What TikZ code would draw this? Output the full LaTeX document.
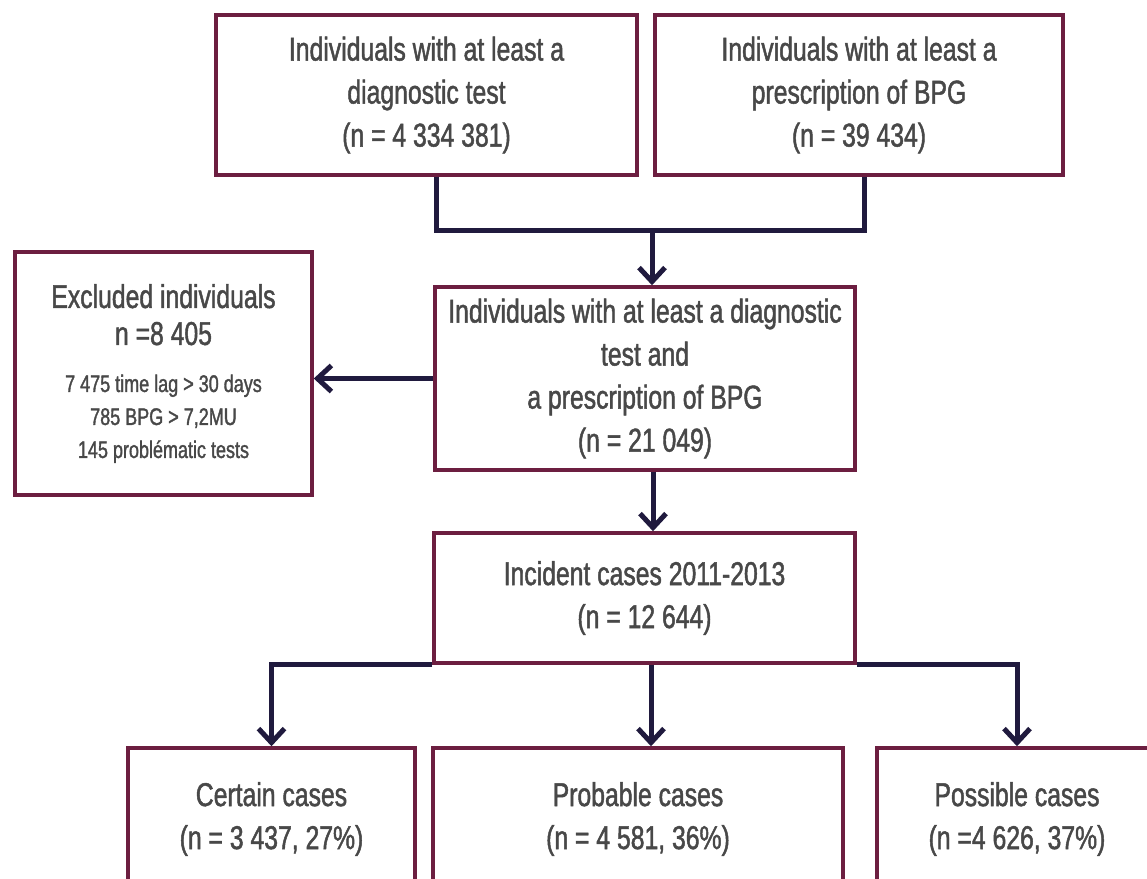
\documentclass[tikz,border=0pt]{standalone}
\usepackage{fontspec}
\setmainfont{Liberation Sans}[FakeStretch=0.75, FakeBold=1.4]
\usetikzlibrary{arrows.meta}
\definecolor{boxline}{RGB}{108,30,64}
\definecolor{connline}{RGB}{32,26,62}
\definecolor{txt}{RGB}{72,72,72}
\begin{document}
\begin{tikzpicture}[x=1pt,y=1pt,
  box/.style={draw=boxline, line width=3.5pt, fill=white, align=center,
    text=txt, inner sep=0pt, font=\fontsize{33}{43}\selectfont},
  conn/.style={draw=connline, line width=5pt},
  arr/.style={conn, -{Straight Barb[length=14pt,width=26pt]}}]
\useasboundingbox (0,0) rectangle (1147,-878);
\clip (0,0) rectangle (1147,-878);

% source populations
\node[box, minimum width=421pt, minimum height=160pt] (A) at (426.5,-95)
  {Individuals with at least a\\diagnostic test\\(n = 4 334 381)};
\node[box, minimum width=408pt, minimum height=160pt] (B) at (859,-95)
  {Individuals with at least a\\prescription of BPG\\(n = 39 434)};

% linked population
\node[box, minimum width=420pt, minimum height=183pt] (C) at (645,-378.5)
  {Individuals with at least a diagnostic\\test and\\a prescription of BPG\\(n = 21 049)};

% exclusions
\node[box, minimum width=297pt, minimum height=243pt,
      font=\fontsize{24}{33}\selectfont] (X) at (163.5,-373.5)
  {{\fontsize{33}{37}\selectfont Excluded individuals}\\[4pt]
   {\fontsize{33}{37}\selectfont n =8 405}\\[14pt]
   7 475 time lag > 30 days\\
   785 BPG > 7,2MU\\
   145 problématic tests};

% incident cases
\node[box, minimum width=421pt, minimum height=130pt] (D) at (644.5,-598)
  {Incident cases 2011-2013\\(n = 12 644)};

% classification
\node[box, minimum width=287pt, minimum height=142pt] (E) at (271.5,-819)
  {Certain cases\\(n = 3 437, 27\%)};
\node[box, minimum width=410pt, minimum height=142pt] (F) at (638,-819)
  {Probable cases\\(n = 4 581, 36\%)};
\node[box, minimum width=280pt, minimum height=142pt] (G) at (1017,-819)
  {Possible cases\\(n =4 626, 37\%)};

% connectors
\coordinate (j) at (652,-230);
\draw[conn] ([xshift=9.5pt]A.south) |- (j) -| ([xshift=5pt]B.south);
\draw[arr] (j) -- (j |- C.north);
\draw[arr] ([xshift=8pt]C.south) -- ([xshift=8pt]C.south |- D.north);
\draw[arr] (C.west) -- (C.west -| X.east);
\draw[arr] (D.south west) -| (E.north);
\draw[arr] ([xshift=6.5pt]D.south) -- ([xshift=6.5pt]D.south |- F.north);
\draw[arr] (D.south east) -| (G.north);
\end{tikzpicture}
\end{document}
